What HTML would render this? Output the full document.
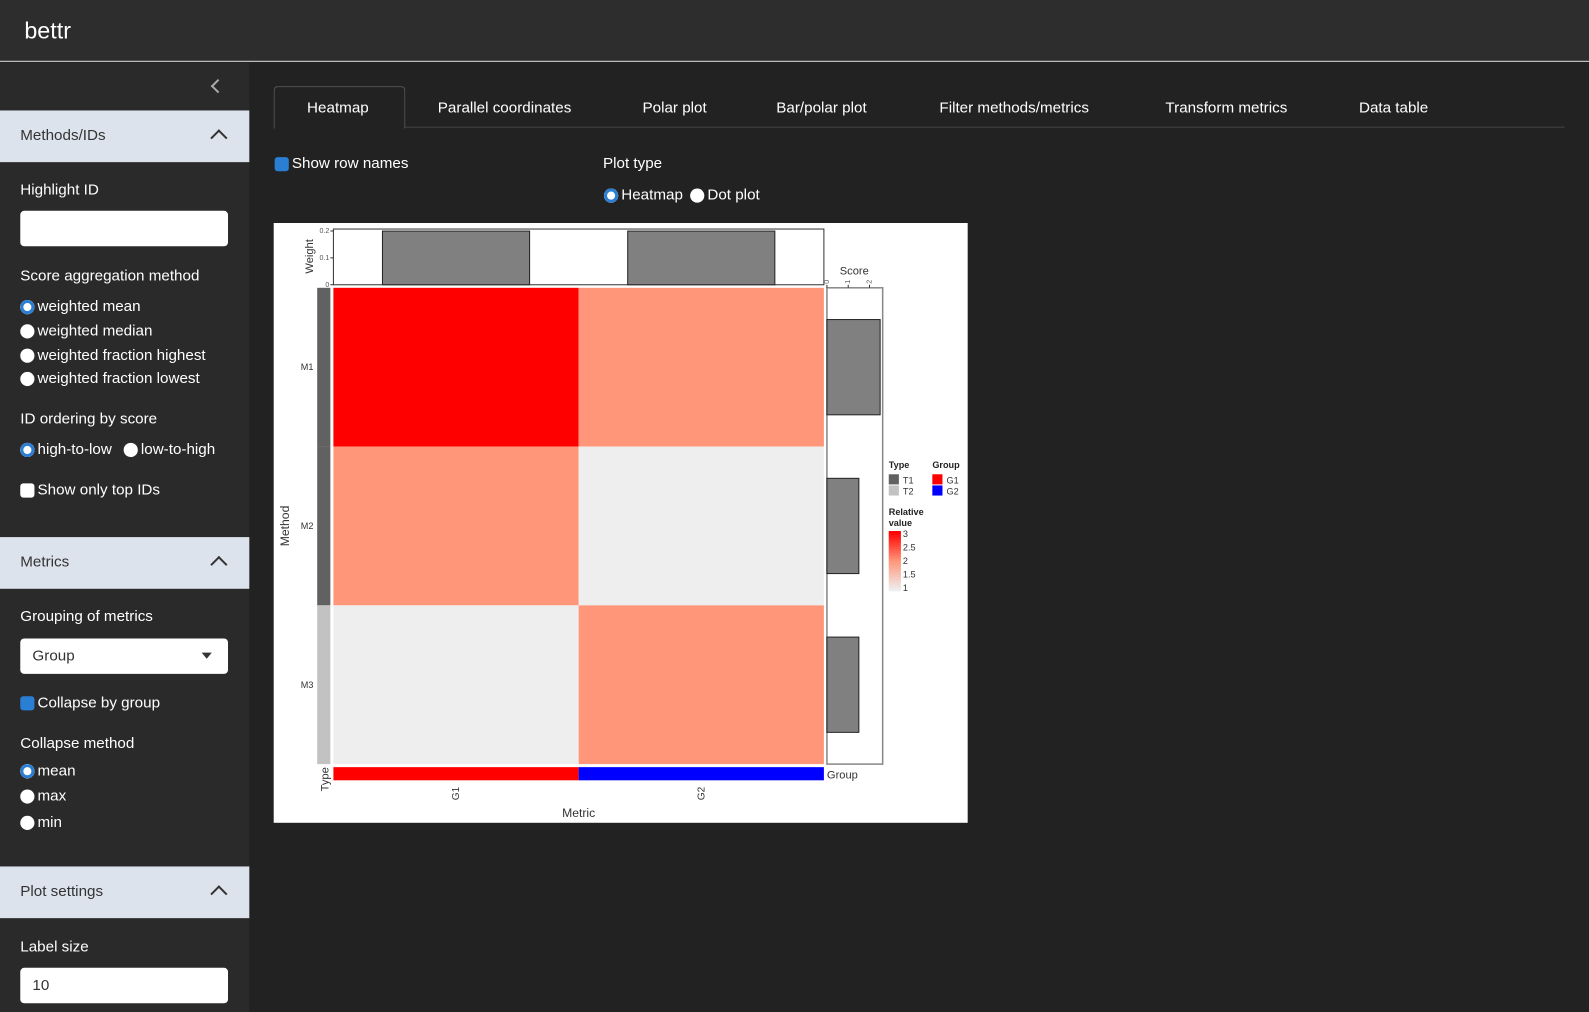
<!DOCTYPE html>
<html><head><meta charset="utf-8"><style>
body{margin:0;width:1589px;height:999px;background:#222;font-family:"Liberation Sans",sans-serif;color:#fff;overflow:hidden;position:relative}
#wrap{position:absolute;left:0;top:0;width:1568px;height:986px;transform:scale(1.0134);transform-origin:0 0}
.abs{position:absolute}
.hdr{left:0;top:0;width:1568px;height:60px;background:#2d2d2d;border-bottom:1px solid #ddd}
.side{left:0;top:62px;width:246px;height:937px;background:#2a2a2a}
.band{position:absolute;left:0;width:246px;height:51px;background:#dde3ec;color:#333;font-size:15px}
.band span{position:absolute;left:20px;top:16px}
.band i{position:absolute;right:24px;top:21px;width:10px;height:10px;border-left:2px solid #333;border-top:2px solid #333;transform:rotate(45deg)}
.lbl{position:absolute;left:20px;font-size:15px}
.inp{position:absolute;left:20px;width:205px;height:35px;background:#fff;border-radius:4px;color:#333;font-size:15px}
.rad{position:absolute;font-size:15px;display:flex;align-items:center;gap:3px}
.rad b{display:inline-block;width:14px;height:14px;border-radius:50%;background:#fff}
.rad b.on{background:#fff;box-shadow:inset 0 0 0 3px #2a7fd4,inset 0 0 0 7px #fff}
.chk{display:inline-block;width:14px;height:14px;border-radius:3px;background:#fff}
.chk.on{background:#2a7fd4}
.tab{position:absolute;top:98px;font-size:15px}
</style></head><body>
<div id="wrap">
<div class="abs hdr"><span class="abs" style="left:24px;top:17px;font-size:23px">bettr</span></div>
<div class="abs side">
<span class="abs" style="left:210px;top:18px;width:8px;height:8px;border-left:2px solid #aaa;border-bottom:2px solid #aaa;transform:rotate(45deg)"></span>
<div class="band" style="top:47px"><span>Methods/IDs</span><i></i></div>
<div class="lbl" style="top:117px">Highlight ID</div>
<div class="inp" style="top:146px"></div>
<div class="lbl" style="top:202px">Score aggregation method</div>
<div class="rad" style="left:20px;top:232px"><b class="on"></b>weighted mean</div>
<div class="rad" style="left:20px;top:256px"><b></b>weighted median</div>
<div class="rad" style="left:20px;top:280px"><b></b>weighted fraction highest</div>
<div class="rad" style="left:20px;top:303px"><b></b>weighted fraction lowest</div>
<div class="lbl" style="top:343px">ID ordering by score</div>
<div class="rad" style="left:20px;top:373px"><b class="on"></b>high-to-low</div>
<div class="rad" style="left:122px;top:373px"><b></b>low-to-high</div>
<div class="rad" style="left:20px;top:413px"><span class="chk"></span>Show only top IDs</div>
<div class="band" style="top:468px"><span>Metrics</span><i></i></div>
<div class="lbl" style="top:538px">Grouping of metrics</div>
<div class="inp" style="top:568px"><span class="abs" style="left:12px;top:9px">Group</span><span class="abs" style="right:16px;top:14px;border:5px solid transparent;border-top:6px solid #333"></span></div>
<div class="rad" style="left:20px;top:623px"><span class="chk on"></span>Collapse by group</div>
<div class="lbl" style="top:663px">Collapse method</div>
<div class="rad" style="left:20px;top:690px"><b class="on"></b>mean</div>
<div class="rad" style="left:20px;top:715px"><b></b>max</div>
<div class="rad" style="left:20px;top:741px"><b></b>min</div>
<div class="band" style="top:793px"><span>Plot settings</span><i></i></div>
<div class="lbl" style="top:864px">Label size</div>
<div class="inp" style="top:893px"><span class="abs" style="left:12px;top:9px">10</span></div>
</div>
<div class="abs" style="left:270px;top:125px;width:1274px;border-top:1px solid #444"></div>
<div class="abs" style="left:270px;top:85px;width:128px;height:41px;background:#222;border:1px solid #555;border-bottom:none;border-radius:4px 4px 0 0"></div>
<span class="tab" style="left:303px">Heatmap</span>
<span class="tab" style="left:432px">Parallel coordinates</span>
<span class="tab" style="left:634px">Polar plot</span>
<span class="tab" style="left:766px">Bar/polar plot</span>
<span class="tab" style="left:927px">Filter methods/metrics</span>
<span class="tab" style="left:1150px">Transform metrics</span>
<span class="tab" style="left:1341px">Data table</span>
<div class="rad" style="left:271px;top:153px"><span class="chk on"></span>Show row names</div>
<div class="abs" style="left:595px;top:153px;font-size:15px">Plot type</div>
<div class="rad" style="left:596px;top:184px"><b class="on"></b>Heatmap</div>
<div class="rad" style="left:681px;top:184px"><b></b>Dot plot</div>
<svg class="abs" style="left:270px;top:220px" width="685" height="592" id="chart" font-family="Liberation Sans,sans-serif"></svg>
</div>
<script>
const methods=["M1","M2","M3"];
const metrics=["G1","G2"];
const values=[[3,2],[2,1],[1,2]];
const weights=[0.2,0.2];
const scores=[2.5,1.5,1.5];
const types=["T1","T1","T2"];
const groups=["G1","G2"];
const weightTicks=[0,0.1,0.2];
const scoreTicks=[0,1,2];
const legendTicks=[3,2.5,2,1.5,1];
const NS="http://www.w3.org/2000/svg",svg=document.getElementById("chart");
function el(t,a,txt){const e=document.createElementNS(NS,t);for(const k in a)e.setAttribute(k,a[k]);if(txt!==undefined)e.textContent=txt;svg.appendChild(e);return e;}
const OX=270,OY=220;
const hx0=329-OX,hx1=813-OX,hy0=284-OY,hy1=754-OY;
const cw=(hx1-hx0)/metrics.length,ch=(hy1-hy0)/methods.length;
function col(v){const t=(v-1)/2;let r,g,bb;
 if(t<=0.5){const u=t/0.5;r=238+(255-238)*u;g=238+(150-238)*u;bb=238+(122-238)*u;}else{const u=(t-0.5)/0.5;r=255;g=150*(1-u);bb=122*(1-u);}
 return `rgb(${r|0},${g|0},${bb|0})`;}
const typeCol={T1:"#616161",T2:"#c2c2c2"},groupCol={G1:"#ff0000",G2:"#0000ff"};
let e=el("rect",{x:0,y:0,width:685,height:592,fill:"#fff"});

methods.forEach((m,i)=>metrics.forEach((g,j)=>{
 const r=el("rect",{x:hx0+j*cw,y:hy0+i*ch,width:cw,height:ch,fill:col(values[i][j])});
 
}));
methods.forEach((m,i)=>{
 const r=el("rect",{x:313-OX,y:hy0+i*ch,width:13,height:ch,fill:typeCol[types[i]]});
 
 const t=el("text",{x:303-OX,y:hy0+i*ch+ch/2+3,"font-size":9,fill:"#333","text-anchor":"middle"},m);
 
});
metrics.forEach((g,j)=>{
 const r=el("rect",{x:hx0+j*cw,y:757-OY,width:cw,height:13,fill:groupCol[groups[j]]});
 
 const cx=hx0+j*cw+cw/2;
 const t=el("text",{x:cx,y:783-OY,"font-size":10,fill:"#333","text-anchor":"middle",transform:`rotate(-90 ${cx} ${783-OY})`,dy:3},g);
 
});
const wy0=281-OY,wy1=228-OY;const wY=v=>wy0+(wy1-wy0)*v/0.2;
el("rect",{x:hx0,y:226-OY,width:hx1-hx0,height:wy0-(226-OY),fill:"none",stroke:"#333","stroke-width":1});
weightTicks.forEach(v=>{el("line",{x1:hx0-3,x2:hx0,y1:wY(v),y2:wY(v),stroke:"#333"});el("text",{x:hx0-4,y:wY(v)+2,"font-size":7,fill:"#555","text-anchor":"end"},v);});
weights.forEach((w,j)=>{const bw=cw*0.6,x=hx0+j*cw+(cw-bw)/2;
 const r=el("rect",{x:x,y:wY(w),width:bw,height:wy0-wY(w),fill:"#808080",stroke:"#222"});
 });
el("text",{x:0,y:0,"font-size":11,fill:"#333","text-anchor":"middle",transform:`translate(${309-OX},${253-OY}) rotate(-90)`},"Weight");
const sx0=816-OX,sX=v=>sx0+21*v;
el("rect",{x:sx0,y:hy0,width:871-816,height:hy1-hy0,fill:"none",stroke:"#888","stroke-width":1.5});
scoreTicks.forEach(v=>{el("line",{x1:sX(v),x2:sX(v),y1:hy0-3,y2:hy0,stroke:"#333"});el("text",{x:0,y:0,"font-size":7,fill:"#555",transform:`translate(${sX(v)+2},${hy0-4}) rotate(-90)`},v);});
scores.forEach((s,i)=>{const bh=ch*0.6,y=hy0+i*ch+(ch-bh)/2;
 const r=el("rect",{x:sx0,y:y,width:sX(s)-sx0,height:bh,fill:"#808080",stroke:"#222"});
 });
el("text",{x:843-OX,y:271-OY,"font-size":11,fill:"#333","text-anchor":"middle"},"Score");
el("text",{x:0,y:0,"font-size":12,fill:"#333","text-anchor":"middle",transform:`translate(${285-OX},${519-OY}) rotate(-90)`},"Method");
el("text",{x:571-OX,y:806-OY,"font-size":12,fill:"#333","text-anchor":"middle"},"Metric");
el("text",{x:0,y:0,"font-size":11,fill:"#333","text-anchor":"middle",transform:`translate(${324-OX},${769-OY}) rotate(-90)`},"Type");
el("text",{x:816-OX,y:768-OY,"font-size":11,fill:"#333"},"Group");
el("text",{x:877-OX,y:462-OY,"font-size":9,"font-weight":"bold",fill:"#222"},"Type");
["T1","T2"].forEach((t,k)=>{el("rect",{x:877-OX,y:468-OY+k*11,width:10,height:10,fill:typeCol[t]});el("text",{x:891-OX,y:477-OY+k*11,"font-size":9,fill:"#333"},t);});
el("text",{x:920-OX,y:462-OY,"font-size":9,"font-weight":"bold",fill:"#222"},"Group");
groups.forEach((g,k)=>{el("rect",{x:920-OX,y:468-OY+k*11,width:10,height:10,fill:groupCol[g]});el("text",{x:934-OX,y:477-OY+k*11,"font-size":9,fill:"#333"},g);});
el("text",{x:877-OX,y:508-OY,"font-size":9,"font-weight":"bold",fill:"#222"},"Relative");
el("text",{x:877-OX,y:519-OY,"font-size":9,"font-weight":"bold",fill:"#222"},"value");
const ly0=524-OY,ly1=583-OY;
for(let k=0;k<30;k++){const v=3-2*k/29;el("rect",{x:877-OX,y:ly0+k*(ly1-ly0)/30,width:12,height:(ly1-ly0)/30+0.5,fill:col(v)});}
legendTicks.forEach(v=>{const y=ly0+3+(3-v)/2*(ly1-ly0-6);el("text",{x:891-OX,y:y+3,"font-size":9,fill:"#333"},v);});
</script>
</body></html>
